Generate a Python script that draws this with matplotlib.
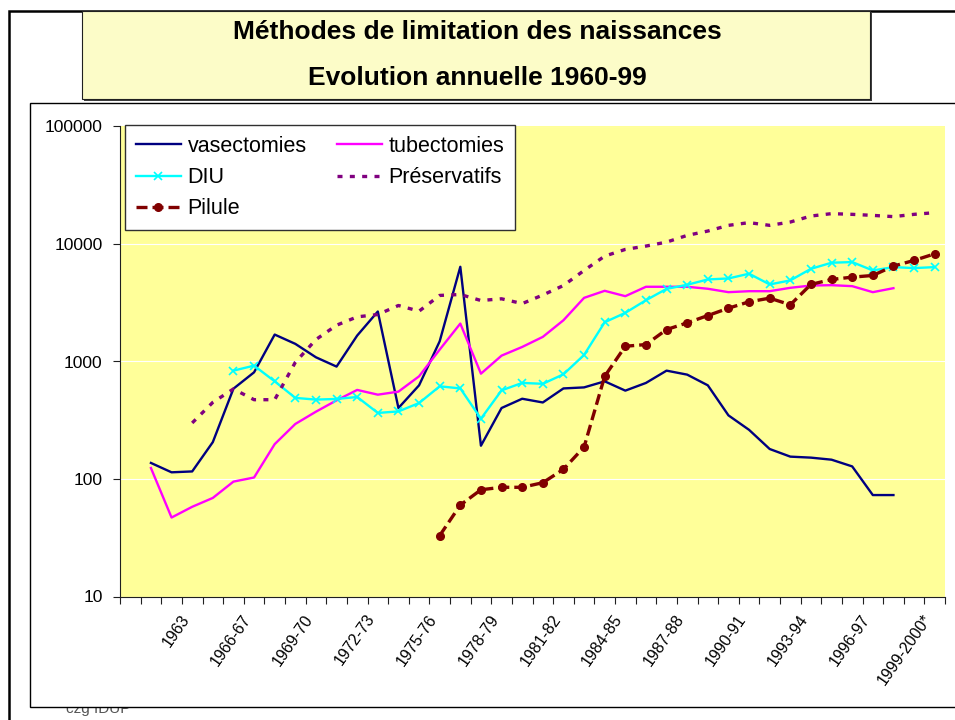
import matplotlib
matplotlib.use('Agg')
import matplotlib.pyplot as plt
import numpy as np
from matplotlib.patches import Rectangle
from matplotlib.ticker import NullLocator
from matplotlib import transforms

plt.rcParams['font.family'] = ['Liberation Sans', 'DejaVu Sans']

nan = np.nan

# one category per year, fiscal years from 1966-67 on
categories = ['1960', '1961', '1962', '1963', '1964', '1965', '1966-67', '1967-68',
              '1968-69', '1969-70', '1970-71', '1971-72', '1972-73', '1973-74',
              '1974-75', '1975-76', '1976-77', '1977-78', '1978-79', '1979-80',
              '1980-81', '1981-82', '1982-83', '1983-84', '1984-85', '1985-86',
              '1986-87', '1987-88', '1988-89', '1989-90', '1990-91', '1991-92',
              '1992-93', '1993-94', '1994-95', '1995-96', '1996-97', '1997-98',
              '1998-99', '1999-2000*']
shown_labels = ['1963', '1966-67', '1969-70', '1972-73', '1975-76', '1978-79',
                '1981-82', '1984-85', '1987-88', '1990-91', '1993-94', '1996-97',
                '1999-2000*']

vasectomies = [nan, 137, 114, 116, 206, 587, 809, 1695, 1413, 1086,
               905, 1663, 2663, 402, 627, 1486, 6397, 192, 402, 482,
               448, 590, 602, 678, 565, 657, 836, 773, 627, 348,
               262, 180, 155, 152, 146, 128, 73, 73, nan, nan]
tubectomies = [nan, 124, 47, 58, 69, 95, 103, 198, 294, 374,
               467, 573, 522, 554, 748, 1263, 2103, 788, 1122, 1330,
               1620, 2244, 3480, 3996, 3597, 4325, 4325, 4325, 4159, 3891,
               3966, 3966, 4237, 4432, 4463, 4377, 3891, 4207, nan, nan]
diu = [nan, nan, nan, nan, nan, 836, 922, 678, 490, 474,
       480, 499, 365, 376, 443, 615, 590, 326, 568, 657,
       646, 778, 1137, 2158, 2594, 3323, 4150, 4500, 4992, 5092,
       5587, 4529, 4900, 6150, 6929, 7018, 5955, 6357, 6237, 6357]
preservatifs = [nan, nan, nan, 300, 449, 584, 473, 473, 984, 1538,
                2036, 2399, 2511, 2997, 2682, 3650, 3718, 3304, 3417, 3110,
                3680, 4432, 5955, 7887, 8995, 9600, 10380, 11840, 12890, 14410,
                15200, 14410, 15380, 17300, 18130, 17880, 17520, 17100, 17880, 18480]
pilule = [nan, nan, nan, nan, nan, nan, nan, nan, nan, nan,
          nan, nan, nan, nan, nan, 33, 60, 81, 85, 85,
          93, 121, 187, 748, 1348, 1394, 1870, 2133, 2461, 2842,
          3222, 3460, 3040, 4529, 4992, 5222, 5398, 6486, 7251, 8242]

W, H = 955, 720
fig = plt.figure(figsize=(W / 100, H / 100), dpi=100)


def fx(x):
    return x / W


def fy(y):
    return 1 - y / H


def box(x0, y0, x1, y1, **kw):
    r = Rectangle((fx(x0), fy(y1)), fx(x1) - fx(x0), fy(y0) - fy(y1),
                  transform=fig.transFigure, **kw)
    fig.add_artist(r)
    return r


# page frame, source note and chart area
box(9, 11, 1100, 900, fill=False, ec='black', lw=1.8, zorder=-5)
fig.text(fx(66), fy(702), 'czg IDUP', color='#555555', fontsize=11, va='top', zorder=-4)
box(30, 103, 1100, 707, fc='white', ec='black', lw=1.0, zorder=-3)

# title box with shadow
box(84, 13, 872, 101, fc='#404040', ec='none', zorder=10)
box(82, 11, 870, 99, fc='#FCFCC8', ec='#202020', lw=0.8, zorder=11)
fig.text(fx(477), fy(32), 'Méthodes de limitation des naissances', ha='center', va='center',
         fontsize=19, fontweight='bold', zorder=12)
fig.text(fx(477), fy(78), 'Evolution annuelle 1960-99', ha='center', va='center',
         fontsize=19, fontweight='bold', zorder=12)

ax = fig.add_axes([fx(120), fy(596.5), fx(945) - fx(120), fy(126.5) - fy(596.5)])
ax.set_facecolor('#FFFF99')
x = np.arange(len(categories))

l_vas, = ax.plot(x, vasectomies, color='#000080', lw=1.7, label='vasectomies')
l_tub, = ax.plot(x, tubectomies, color='#FF00FF', lw=1.7, label='tubectomies')
l_diu, = ax.plot(x, diu, color='#00FFFF', lw=1.7, marker='x', ms=6, mew=1.2, label='DIU')
l_pre, = ax.plot(x, preservatifs, color='#800080', lw=2.4, ls=(0, (1.5, 2.2)), label='Préservatifs')
l_pil, = ax.plot(x, pilule, color='#800000', lw=2.4, ls=(0, (3.3, 1.5)), marker='o', ms=5.5,
                 label='Pilule')

ax.set_yscale('log')
ax.set_ylim(10, 100000)
ax.set_xlim(-0.5, len(categories) - 0.5)
ax.set_yticks([10, 100, 1000, 10000, 100000])
ax.set_yticklabels(['10', '100', '1000', '10000', '100000'])
ax.yaxis.set_minor_locator(NullLocator())
ax.grid(axis='y', which='major', color='white', lw=0.8)
ax.set_axisbelow(True)

for s in ['top', 'right']:
    ax.spines[s].set_visible(False)
for s in ['left', 'bottom']:
    ax.spines[s].set_color('#202020')
    ax.spines[s].set_linewidth(0.8)

# ticks between categories, labels on every third category
ax.set_xticks(np.arange(-0.5, len(categories), 1.0))
ax.set_xticklabels([])
label_pos = [categories.index(c) for c in shown_labels]
ax.set_xticks(label_pos, minor=True)
ax.set_xticklabels(shown_labels, minor=True)
ax.tick_params(axis='x', which='major', length=5, width=0.8, color='#202020')
ax.tick_params(axis='x', which='minor', length=0, pad=14, labelsize=11.5)
ax.tick_params(axis='y', which='major', length=5, width=0.8, color='#202020', labelsize=12.6, pad=7.5)

shift = transforms.ScaledTranslation(-0.06, 0, fig.dpi_scale_trans)
for lab in ax.get_xticklabels(minor=True):
    lab.set_rotation(55)
    lab.set_ha('right')
    lab.set_va('center')
    lab.set_rotation_mode('anchor')
    lab.set_transform(lab.get_transform() + shift)

leg = ax.legend(handles=[l_vas, l_diu, l_pil, l_tub, l_pre], ncol=2, fontsize=15.5,
                loc='upper left', bbox_to_anchor=(fx(125), fy(125)),
                bbox_transform=fig.transFigure, borderaxespad=0, fancybox=False,
                edgecolor='#303030', framealpha=1, handlelength=2.1, handletextpad=0.3,
                columnspacing=1.4, labelspacing=0.48, borderpad=0.5)
leg.get_frame().set_linewidth(1.0)

fig.savefig('out.png', dpi=100)
